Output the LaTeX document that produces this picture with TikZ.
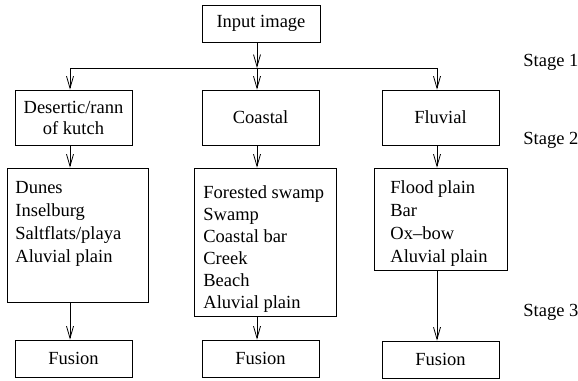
\documentclass[tikz,border=0pt]{standalone}
\usepackage{fontspec}
\setmainfont{Liberation Serif}
\usetikzlibrary{arrows.meta}
\begin{document}
\begin{tikzpicture}[x=1pt,y=-1pt,line width=0.8pt,
  every node/.style={inner sep=0pt,font=\fontsize{18.5}{23}\selectfont},
  box/.style={draw,minimum width=117pt,minimum height=55pt,align=center,font=\fontsize{18.5}{21}\selectfont},
  fbox/.style={draw,minimum width=117pt,minimum height=37pt},
  lbox/.style={draw},
  txt/.style={anchor=base west},
  arr/.style={-{Straight Barb[length=12pt,width=7pt]}}]
\useasboundingbox (0,0) rectangle (578,380);
% top
\node[fbox,minimum width=118pt] (in) at (261,23.5) {Input image};
% stage 2 boxes
\node[box] (d1) at (73.5,117.5) {Desertic/rann\\of kutch};
\node[box] (c1) at (260.5,117.5) {Coastal};
\node[box] (f1) at (440.5,117.5) {Fluvial};
% list boxes
\node[lbox,minimum width=141pt,minimum height=134pt] (d2) at (77.5,235) {};
\node[lbox,minimum width=142pt,minimum height=148pt] (c2) at (265,242) {};
\node[lbox,minimum width=133pt,minimum height=102pt] (f2) at (440.5,219) {};
\node[txt] (d2t) at (15,193) {\begin{tabular}[t]{@{}l@{}}Dunes\\Inselburg\\Saltflats/playa\\Aluvial plain\end{tabular}};
\node[txt,font=\fontsize{18.5}{22}\selectfont] (c2t) at (203,198) {\begin{tabular}[t]{@{}l@{}}Forested swamp\\Swamp\\Coastal bar\\Creek\\Beach\\Aluvial plain\end{tabular}};
\node[txt] (f2t) at (390,193) {\begin{tabular}[t]{@{}l@{}}Flood plain\\Bar\\Ox--bow\\Aluvial plain\end{tabular}};
% fusion
\node[fbox] (d3) at (73.5,358.5) {Fusion};
\node[fbox] (c3) at (260.5,358.5) {Fusion};
\node[fbox] (f3) at (440.5,359.5) {Fusion};
% stage labels
\node[anchor=west] (s1) at (523,62) {Stage 1};
\node[anchor=west] (s2) at (523,140) {Stage 2};
\node[anchor=west] (s3) at (523,312) {Stage 3};
% connectors
\coordinate (ax1) at (70,68);
\coordinate (ax2) at (257,68);
\coordinate (ax3) at (437,68);
\draw (ax1) -- (ax3);
\draw[arr] (in.south -| ax2) -- (ax2);
\draw[arr] (ax1) -- (d1.north -| ax1);
\draw[arr] (ax2) -- (c1.north -| ax2);
\draw[arr] (ax3) -- (f1.north -| ax3);
\draw[arr] (d1.south -| ax1) -- (d2.north -| ax1);
\draw[arr] (c1.south -| ax2) -- (c2.north -| ax2);
\draw[arr] (f1.south -| ax3) -- (f2.north -| ax3);
\draw[arr] (d2.south -| ax1) -- (d3.north -| ax1);
\draw[arr] (c2.south -| ax2) -- (c3.north -| ax2);
\draw[arr] (f2.south -| ax3) -- (f3.north -| ax3);
\end{tikzpicture}
\end{document}
